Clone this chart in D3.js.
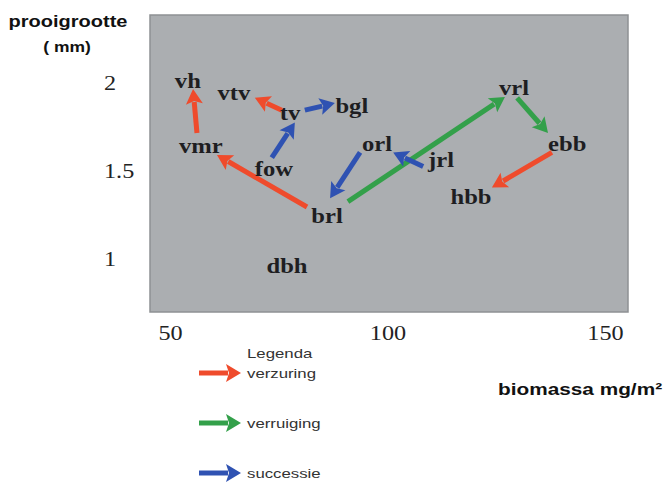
<!DOCTYPE html>
<html>
<head>
<meta charset="utf-8">
<script src="https://cdn.jsdelivr.net/npm/d3@7"></script>
<style>
body{margin:0;background:#fff;}
</style>
</head>
<body>
<svg id="chart" width="663" height="484"></svg>
<script>
// data
const xTicks=[50,100,150];
const yTicks=[1,1.5,2];
const yTickLabels=["1","1.5","2"];

const nodeNames=["vh","vtv","tv","bgl","vmr","fow","brl","dbh","orl","jrl","vrl","ebb","hbb"];
const nodeBiomass=[54.1,64.7,77.6,91.8,57.1,73.9,86.1,76.9,97.6,112.3,129.1,141.3,119.2];
const nodeSize=[2.01,1.94,1.83,1.87,1.64,1.51,1.24,0.96,1.65,1.56,1.97,1.65,1.35];

const arrowType=["verzuring","verzuring","verzuring","verzuring","verruiging","verruiging","successie","successie","successie","successie"];
const arrowX0=[56.2,75.7,81.5,137.8,90.9,129.8,73.4,81.0,93.7,108.2];
const arrowY0=[1.71,1.84,1.29,1.60,1.32,1.91,1.57,1.84,1.60,1.52];
const arrowX1=[55.3,69.5,60.8,124.0,127.0,136.9,78.7,87.9,86.8,101.3];
const arrowY1=[1.96,1.91,1.585,1.40,1.915,1.71,1.77,1.88,1.34,1.60];

const legendLabels=["verzuring","verruiging","successie"];
const legendColors=["#ef4b2c","#33a04a","#2f52b2"];

const svg=d3.select("#chart");
const color=d3.scaleOrdinal().domain(legendLabels).range(legendColors);

const x=d3.scaleLinear().domain([50,150]).range([170,605]);
const y=d3.scaleLinear().domain([1,2]).range([258,82]);

// plot background
svg.append("rect")
    .attr("x",150).attr("y",15)
    .attr("width",478).attr("height",297)
    .attr("fill","#abaeb1")
    .attr("stroke","#8e9194")
    .attr("stroke-width",1.5);

function arrow(g,x0,y0,x1,y1,col,w,hl,hw){
    const dx=x1-x0,dy=y1-y0,len=Math.sqrt(dx*dx+dy*dy);
    const ux=dx/len,uy=dy/len;
    const bx=x1-ux*hl,by=y1-uy*hl;
    g.append("line")
        .attr("x1",x0).attr("y1",y0)
        .attr("x2",bx+ux*2).attr("y2",by+uy*2)
        .attr("stroke",col).attr("stroke-width",w);
    g.append("path")
        .attr("d",`M${x1},${y1}L${bx-uy*hw/2},${by+ux*hw/2}L${bx+ux*3},${by+uy*3}L${bx+uy*hw/2},${by-ux*hw/2}Z`)
        .attr("fill",col);
}

// arrows
const ga=svg.append("g");
arrowType.forEach((t,i)=>{
    arrow(ga,x(arrowX0[i]),y(arrowY0[i]),x(arrowX1[i]),y(arrowY1[i]),color(t),5,15,17);
});

// node labels
svg.append("g").selectAll("text")
    .data(nodeNames)
    .enter()
    .append("text")
    .attr("transform",(d,i)=>`translate(${x(nodeBiomass[i])},${y(nodeSize[i])}) scale(1.12,1)`)
    .attr("dy","0.35em")
    .attr("text-anchor","middle")
    .attr("font-family","Liberation Serif, Times New Roman, serif")
    .attr("font-weight","bold")
    .attr("font-size",22)
    .attr("fill","#1e1e22")
    .text(d=>d);

// axes
const xAxis=svg.append("g")
    .attr("transform","translate(0,323)")
    .call(d3.axisBottom(x).tickValues(xTicks).tickSize(0).tickPadding(0).tickFormat(d3.format("d")));
xAxis.select(".domain").remove();
xAxis.selectAll("text")
    .attr("y",0).attr("dy","0.75em")
    .attr("transform","scale(1.1,1)")
    .attr("font-family","Liberation Serif, Times New Roman, serif")
    .attr("font-size",22)
    .attr("fill","#222");

const yAxis=svg.append("g")
    .attr("transform","translate(104,0)")
    .call(d3.axisLeft(y).tickValues(yTicks).tickSize(0).tickPadding(0).tickFormat((d,i)=>yTickLabels[i]));
yAxis.select(".domain").remove();
yAxis.selectAll("text")
    .attr("x",0).attr("dy","0.35em")
    .attr("text-anchor","start")
    .attr("transform","scale(1.1,1)")
    .attr("font-family","Liberation Serif, Times New Roman, serif")
    .attr("font-size",22)
    .attr("fill","#222");

// axis titles
function stretched(txt,px,py,size,sx,anchor,weight,fill){
    svg.append("text")
        .attr("transform",`translate(${px},${py}) scale(${sx},1)`)
        .attr("text-anchor",anchor)
        .attr("font-family","Liberation Sans, Arial, sans-serif")
        .attr("font-weight",weight)
        .attr("font-size",size)
        .attr("fill",fill)
        .text(txt);
}
stretched("prooigrootte",68,27,16,1.25,"middle","bold","#111");
stretched("( mm)",67,52,14,1.25,"middle","bold","#111");
stretched("biomassa mg/m\u00b2",498,395,16,1.3,"start","bold","#111");

// legend
stretched("Legenda",247,358,12,1.4,"start","normal","#333");
const gl=svg.append("g");
legendLabels.forEach((l,i)=>{
    const ly=373+i*50;
    arrow(gl,199,ly,241,ly,color(l),5,15,18);
    stretched(l,247,ly+5,12,1.4,"start","normal","#333");
});
</script>
</body>
</html>
